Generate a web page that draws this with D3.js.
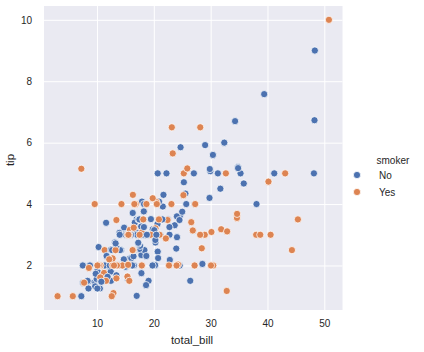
<!DOCTYPE html>
<html><head><meta charset="utf-8">
<script src="https://cdn.jsdelivr.net/npm/d3@7"></script>
<style>body{margin:0;background:#fff}svg{display:block}</style>
</head><body><svg id="c" width="424" height="352"></svg>
<script>
const totalBill=[16.99,10.34,21.01,23.68,24.59,25.29,8.77,26.88,15.04,14.78,10.27,35.26,15.42,18.43,14.83,21.58,10.33,16.29,16.97,20.65,17.92,20.29,15.77,39.42,19.82,17.81,13.37,12.69,21.7,19.65,9.55,18.35,15.06,20.69,17.78,24.06,16.31,16.93,18.69,31.27,16.04,17.46,13.94,9.68,30.4,18.29,22.23,32.4,28.55,18.04,12.54,10.29,34.81,9.94,25.56,19.49,38.01,26.41,11.24,48.27,20.29,13.81,11.02,18.29,17.59,20.08,16.45,3.07,20.23,15.01,12.02,17.07,26.86,25.28,14.73,10.51,17.92,27.2,22.76,17.29,19.44,16.66,10.07,32.68,15.98,34.83,13.03,18.28,24.71,21.16,28.97,22.49,5.75,16.32,22.75,40.17,27.28,12.03,21.01,12.46,11.35,15.38,44.3,22.42,20.92,15.36,20.49,25.21,18.24,14.31,14.0,7.25,38.07,23.95,25.71,17.31,29.93,10.65,12.43,24.08,11.69,13.42,14.26,15.95,12.48,29.8,8.52,14.52,11.38,22.82,19.08,20.27,11.17,12.26,18.26,8.51,10.33,14.15,16.0,13.16,17.47,34.3,41.19,27.05,16.43,8.35,18.64,11.87,9.78,7.51,14.07,13.13,17.26,24.55,19.77,29.85,48.17,25.0,13.39,16.49,21.5,12.66,16.21,13.81,17.51,24.52,20.76,31.71,10.59,10.63,50.81,15.81,7.25,31.85,16.82,32.9,17.89,14.48,9.6,34.63,34.65,23.33,45.35,23.17,40.55,20.69,20.9,30.46,18.15,23.1,15.69,19.81,28.44,15.48,16.58,7.56,10.34,43.11,13.0,13.51,18.71,12.74,13.0,16.4,20.53,16.47,26.59,38.73,24.27,12.76,30.06,25.89,48.33,13.27,28.17,12.9,28.15,11.59,7.74,30.14,12.16,13.42,8.58,15.98,13.42,16.27,10.09,20.45,13.28,22.12,24.01,15.69,11.61,10.77,15.53,10.07,12.6,32.83,35.83,29.03,27.18,22.67,17.82,18.78];
const tip=[1.01,1.66,3.5,3.31,3.61,4.71,2.0,3.12,1.96,3.23,1.71,5.0,1.57,3.0,3.02,3.92,1.67,3.71,3.5,3.35,4.08,2.75,2.23,7.58,3.18,2.34,2.0,2.0,4.3,3.0,1.45,2.5,3.0,2.45,3.27,3.6,2.0,3.07,2.31,5.0,2.24,2.54,3.06,1.32,5.6,3.0,5.0,6.0,2.05,3.0,2.5,2.6,5.2,1.56,4.34,3.51,3.0,1.5,1.76,6.73,3.21,2.0,1.98,3.76,2.64,3.15,2.47,1.0,2.01,2.09,1.97,3.0,3.14,5.0,2.2,1.25,3.08,4.0,3.0,2.71,3.0,3.4,1.83,5.0,2.03,5.17,2.0,4.0,5.85,3.0,3.0,3.5,1.0,4.3,3.25,4.73,4.0,1.5,3.0,1.5,2.5,3.0,2.5,3.48,4.08,1.64,4.06,4.29,3.76,4.0,3.0,1.0,4.0,2.55,4.0,3.5,5.07,1.5,1.8,2.92,2.31,1.68,2.5,2.0,2.52,4.2,1.48,2.0,2.0,2.18,1.5,2.83,1.5,2.0,3.25,1.25,2.0,2.0,2.0,2.75,3.5,6.7,5.0,5.0,2.3,1.5,1.36,1.63,1.73,2.0,2.5,2.0,2.74,2.0,2.0,5.14,5.0,3.75,2.61,2.0,3.5,2.5,2.0,2.0,3.0,3.48,2.24,4.5,1.61,2.0,10.0,3.16,5.15,3.18,4.0,3.11,2.0,2.0,4.0,3.55,3.68,5.65,3.5,6.5,3.0,5.0,3.5,2.0,3.5,4.0,1.5,4.19,2.56,2.02,4.0,1.44,2.0,5.0,2.0,2.0,4.0,2.01,2.0,2.5,4.0,3.23,3.41,3.0,2.03,2.23,2.0,5.16,9.0,2.5,6.5,1.1,3.0,1.5,1.44,3.09,2.2,3.48,1.92,3.0,1.58,2.5,2.0,3.0,2.72,2.88,2.0,3.0,3.39,1.47,3.0,1.25,1.0,1.17,4.67,5.92,2.0,2.0,1.75,3.0];
const smoker=[
"No","No","No","No","No","No","No","No","No","No",
"No","No","No","No","No","No","No","No","No","No",
"No","No","No","No","No","No","No","No","No","No",
"No","No","No","No","No","No","No","No","No","No",
"No","No","No","No","No","No","No","No","No","No",
"No","No","No","No","No","No","Yes","No","Yes","No",
"Yes","Yes","Yes","Yes","No","No","No","Yes","No","Yes",
"No","No","Yes","Yes","No","No","Yes","No","No","No",
"Yes","No","No","Yes","No","No","No","No","No","No",
"Yes","No","Yes","Yes","No","Yes","Yes","Yes","Yes","No",
"Yes","Yes","Yes","Yes","No","Yes","Yes","Yes","No","Yes",
"No","No","No","No","No","No","No","No","No","No",
"No","No","No","No","No","No","No","No","No","No",
"No","No","No","No","No","No","No","No","Yes","No",
"No","No","No","No","No","No","No","No","No","No",
"No","No","No","No","No","No","No","No","No","No",
"No","No","No","No","Yes","No","No","No","Yes","Yes",
"Yes","Yes","Yes","Yes","Yes","Yes","Yes","Yes","Yes","Yes",
"Yes","Yes","Yes","Yes","Yes","No","Yes","Yes","Yes","Yes",
"Yes","Yes","Yes","Yes","Yes","No","Yes","Yes","Yes","Yes",
"Yes","Yes","Yes","Yes","Yes","Yes","Yes","Yes","Yes","Yes",
"Yes","Yes","No","Yes","Yes","Yes","Yes","Yes","Yes","Yes",
"Yes","Yes","Yes","No","Yes","Yes","Yes","No","No","Yes",
"Yes","Yes","No","No","Yes","No","Yes","Yes","No","No",
"Yes","Yes","No","No"];
const xTicks=[10,20,30,40,50];
const yTicks=[2,4,6,8,10];
const hueLevels=["No","Yes"];
const hueColors=["#4c72b0","#dd8452"];

const svg=d3.select("#c");
const L=44,R=342.5,T=6,B=310;
const font="'Liberation Sans', Arial, sans-serif";
const xe=d3.extent(totalBill), ye=d3.extent(tip);
const xm=(xe[1]-xe[0])*0.05, ym=(ye[1]-ye[0])*0.05;
const x=d3.scaleLinear().domain([xe[0]-xm,xe[1]+xm]).range([L,R]);
const y=d3.scaleLinear().domain([ye[0]-ym,ye[1]+ym]).range([B,T]);
const color=d3.scaleOrdinal().domain(hueLevels).range(hueColors);

svg.append("rect").attr("x",L).attr("y",T).attr("width",R-L).attr("height",B-T).attr("fill","#eaeaf2");
const gx=svg.append("g").attr("transform",`translate(0,${B})`)
 .call(d3.axisBottom(x).tickValues(xTicks).tickSize(-(B-T)).tickPadding(10).tickFormat(d3.format("d")));
const gy=svg.append("g").attr("transform",`translate(${L},0)`)
 .call(d3.axisLeft(y).tickValues(yTicks).tickSize(-(R-L)).tickPadding(12).tickFormat(d3.format("d")));
[gx,gy].forEach(g=>{
  g.select(".domain").remove();
  g.selectAll(".tick line").attr("stroke","#ffffff").attr("stroke-width",1);
  g.selectAll(".tick text").attr("fill","#262626").style("font-family",font).style("font-size","10px");
});

svg.append("g").selectAll("circle").data(d3.range(totalBill.length)).join("circle")
 .attr("cx",i=>x(totalBill[i])).attr("cy",i=>y(tip[i])).attr("r",3.6)
 .attr("fill",i=>color(smoker[i])).attr("stroke","#ffffff").attr("stroke-width",0.75);

svg.append("text").attr("x",192).attr("y",344).attr("text-anchor","middle")
 .attr("fill","#262626").style("font-family",font).style("font-size","11.5px").text("total_bill");
svg.append("text").attr("transform",`translate(13.5,160) rotate(-90)`).attr("text-anchor","middle")
 .attr("fill","#262626").style("font-family",font).style("font-size","11.5px").text("tip");

const lg=svg.append("g");
lg.append("text").attr("x",376.5).attr("y",164).attr("fill","#262626").style("font-family",font).style("font-size","10px").text("smoker");
hueLevels.forEach((h,i)=>{
  const yy=175+i*17;
  lg.append("circle").attr("cx",357).attr("cy",yy).attr("r",3.6).attr("fill",color(h)).attr("stroke","#fff").attr("stroke-width",0.75);
  lg.append("text").attr("x",379).attr("y",yy+3.7).attr("fill","#262626").style("font-family",font).style("font-size","10px").text(h);
});
</script></body></html>
